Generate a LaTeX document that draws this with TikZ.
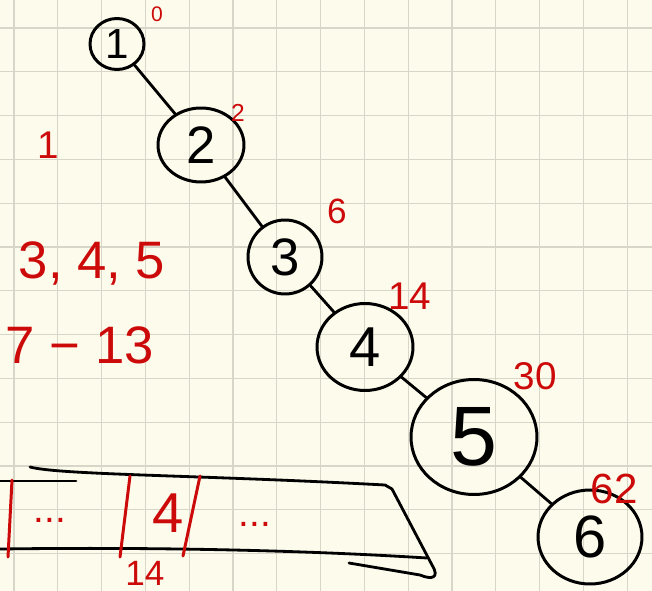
\documentclass[tikz,border=0pt]{standalone}
\usepackage{fontspec}
\setmainfont{Liberation Sans}
\usetikzlibrary{shapes.geometric}
\definecolor{cpaper}{HTML}{FDFBEC}
\definecolor{cgrid}{HTML}{D8D6C8}
\definecolor{cred}{HTML}{CC0A0A}
\tikzset{
  every picture/.style={line width=1.7pt},
  vtx/.style={draw=black, ellipse, inner sep=0pt, minimum width=#1},
  ink/.style={draw=black, line width=1.6pt, line cap=round, line join=round},
  edge/.style={draw=black, line width=1.6pt, line cap=round},
  redtxt/.style={text=cred, inner sep=0pt},
  redink/.style={draw=cred, line width=1.7pt, line cap=round},
}
\newcommand{\fs}[1]{\fontsize{#1}{#1}\selectfont}

\begin{document}
\begin{tikzpicture}[x=0.02cm, y=-0.02cm]
  % paper and grid
  \fill[cpaper] (0,0) rectangle (652,591);
  \useasboundingbox (0,0) rectangle (652,591);
  \foreach \i in {0,...,14}
    \draw[cgrid, line width=0.6pt] (14+43.8*\i,0) -- (14+43.8*\i,591);
  \foreach \j in {0,...,13}
    \draw[cgrid, line width=0.6pt] (0,28+43.8*\j) -- (652,28+43.8*\j);
  % the chain of nodes
  \node[vtx=1.08cm, minimum height=1.02cm, font=\fs{24}] (n1) at (117,44) {1};
  \node[vtx=1.72cm, minimum height=1.48cm, font=\fs{30}] (n2) at (201,145) {2};
  \node[vtx=1.48cm, minimum height=1.48cm, font=\fs{30}] (n3) at (285,257) {3};
  \node[vtx=1.92cm, minimum height=1.74cm, font=\fs{32}] (n4) at (365,347) {4};
  \node[vtx=2.52cm, minimum height=2.3cm, font=\fs{48}] (n5) at (474,437) {5};
  \node[vtx=2.08cm, minimum height=1.88cm, font=\fs{34}] (n6) at (590,537) {6};
  \draw[edge] (n1) -- (n2);
  \draw[edge] (n2) -- (n3);
  \draw[edge] (n3) -- (n4);
  \draw[edge] (n4) -- (n5);
  \draw[edge] (n5) -- (n6);
  % red counts
  \node[redtxt, font=\fs{12}] (c1) at (157,14) {0};
  \node[redtxt, font=\fs{14}] (c2) at (238,113) {2};
  \node[redtxt, font=\fs{20}] (c3) at (337,211) {6};
  \node[redtxt, font=\fs{22}] (c4) at (410,296) {14};
  \node[redtxt, font=\fs{22}] (c5) at (535,376) {30};
  \node[redtxt, font=\fs{24}] (c6) at (614,489) {62};
  \node[redtxt, font=\fs{22}] (l1) at (48,145) {1};
  \node[redtxt, font=\fs{30}] (l2) at (92,263) {3, 4, 5};
  \node[redtxt, font=\fs{30}] (l3) at (80,345) {7 − 13};
  % array
  \draw[ink] (30,467) .. controls (60,475) and (200,475) .. (385,485)
    -- (392,489) -- (432,565) .. controls (440,578) and (432,580) .. (420,575)
    -- (349,563);
  \draw[ink] (0,481) -- (76,481);
  \draw[ink] (0,549) .. controls (150,547) and (300,550) .. (427,558);
  \draw[redink] (12,480) -- (8,557);
  \draw[redink] (130,476) -- (120,557);
  \draw[redink] (200,476) -- (183,556);
  \node[redtxt, font=\fs{32}] (a4) at (168,513) {4};
  \node[redtxt, font=\fs{22}] (d1) at (50,520) {...};
  \node[redtxt, font=\fs{22}] (d2) at (255,524) {...};
  \node[redtxt, font=\fs{20}] (i14) at (145,573) {14};
\end{tikzpicture}
\end{document}
